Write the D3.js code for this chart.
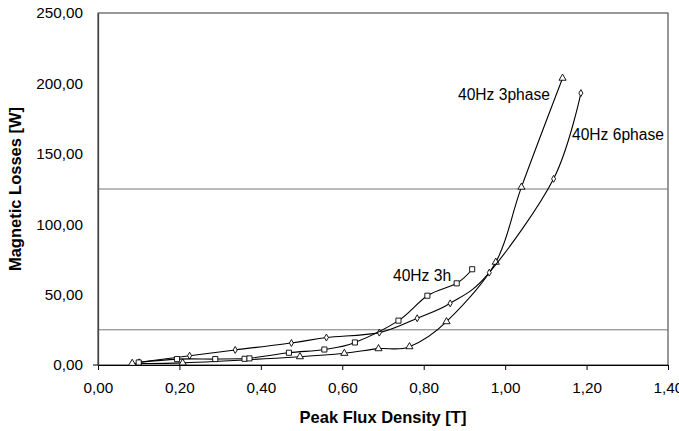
<!DOCTYPE html>
<html>
<head>
<meta charset="utf-8">
<script src="https://cdn.jsdelivr.net/npm/d3@7"></script>
<style>
  body { margin: 0; background: #fff; }
  text { font-family: "Liberation Sans", Arial, sans-serif; fill: #000; }
</style>
</head>
<body>
<svg id="chart" width="679" height="431"></svg>
<script>
// values
var xTicks = [0, 0.2, 0.4, 0.6, 0.8, 1.0, 1.2, 1.4];
var yTicks = [0, 50, 100, 150, 200, 250];
var refLines = [25, 125];

var phase3X = [0.084, 0.208, 0.496, 0.605, 0.689, 0.765, 0.856, 0.977, 1.040, 1.141];
var phase3Y = [1.2, 1.5, 5.9, 8.3, 11.6, 13.0, 30.8, 73.0, 126.3, 203.7];

var phase6X = [0.101, 0.225, 0.337, 0.475, 0.561, 0.691, 0.784, 0.865, 0.961, 1.119, 1.186];
var phase6Y = [1.9, 6.6, 10.7, 15.6, 19.5, 23.0, 33.2, 43.8, 65.6, 132.2, 193.1];

var h3X = [0.100, 0.194, 0.288, 0.360, 0.372, 0.469, 0.556, 0.631, 0.738, 0.809, 0.881, 0.919];
var h3Y = [1.8, 4.2, 4.2, 4.4, 4.7, 8.7, 11.0, 16.0, 31.5, 49.2, 58.0, 68.0];

var seriesNames = ["40Hz 3phase", "40Hz 6phase", "40Hz 3h"];

function zip(xs, ys) {
	return xs.map(function(v, i) { return {x: v, y: ys[i]}; });
}

var series = [
	{name: seriesNames[0], pts: zip(phase3X, phase3Y), shape: d3.symbolTriangle, size: 22, lx: 458, ly: 100},
	{name: seriesNames[1], pts: zip(phase6X, phase6Y), shape: d3.symbolDiamond, size: 14, lx: 572, ly: 140},
	{name: seriesNames[2], pts: zip(h3X, h3Y), shape: d3.symbolSquare, size: 26, lx: 393, ly: 281}
];

var width = 679, height = 431;
var margin = {top: 13, right: 11, bottom: 66, left: 98};

var svg = d3.select("#chart");

var x = d3.scaleLinear().domain([0, 1.4]).range([margin.left, width - margin.right]);
var y = d3.scaleLinear().domain([0, 250]).range([height - margin.bottom, margin.top]);

var comma = d3.formatLocale({decimal: ",", thousands: ".", grouping: [3], currency: ["", ""]});
var fmt = comma.format(".2f");

// frame
svg.append("rect")
	.attr("x", x(0)).attr("y", y(250))
	.attr("width", x(1.4) - x(0)).attr("height", y(0) - y(250))
	.attr("fill", "none").attr("stroke", "#333").attr("stroke-width", 1);

// reference lines
svg.append("g").selectAll("line").data(refLines).enter()
	.append("line")
	.attr("x1", x(0)).attr("x2", x(1.4))
	.attr("y1", d => y(d)).attr("y2", d => y(d))
	.attr("stroke", "#777").attr("stroke-width", 1);

// x axis
var xAxis = svg.append("g")
	.attr("transform", `translate(0,${y(0)})`)
	.call(d3.axisBottom(x).tickValues(xTicks).tickFormat(fmt).tickSize(5).tickPadding(12).tickSizeOuter(0));
xAxis.select(".domain").attr("stroke", "#000");
xAxis.selectAll("text").style("font-size", "15.3px").attr("font-family", null);
xAxis.append("line")
	.attr("x1", x(0) - 5).attr("x2", x(0))
	.attr("stroke", "#000");

// y axis
var yAxis = svg.append("g")
	.attr("transform", `translate(${x(0)},0)`)
	.call(d3.axisLeft(y).tickValues(yTicks).tickFormat(fmt).tickSize(0).tickPadding(15));
yAxis.select(".domain").attr("stroke", "#444").attr("stroke-width", 1.3);
yAxis.selectAll("text").style("font-size", "15.3px").attr("font-family", null);

// axis titles
svg.append("text")
	.attr("x", (x(0) + x(1.4)) / 2).attr("y", 423)
	.attr("text-anchor", "middle")
	.style("font-size", "16.5px").style("font-weight", "bold")
	.text("Peak Flux Density [T]");

svg.append("text")
	.attr("transform", `translate(21,${(y(0) + y(250)) / 2}) rotate(-90)`)
	.attr("text-anchor", "middle")
	.style("font-size", "16.5px").style("font-weight", "bold")
	.text("Magnetic Losses [W]");

// lines and markers
var line = d3.line()
	.x(d => x(d.x)).y(d => y(d.y))
	.curve(d3.curveCardinal.tension(0));

series.forEach(function(s) {
	svg.append("path")
		.attr("d", line(s.pts))
		.attr("fill", "none").attr("stroke", "#000").attr("stroke-width", 1.1);

	svg.append("g").selectAll("path").data(s.pts).enter()
		.append("path")
		.attr("transform", d => `translate(${x(d.x)},${y(d.y)})`)
		.attr("d", d3.symbol().type(s.shape).size(s.size))
		.attr("fill", "#fff").attr("stroke", "#000").attr("stroke-width", 0.9);

	svg.append("text")
		.attr("x", s.lx).attr("y", s.ly)
		.style("font-size", "15.6px")
		.text(s.name);
});
</script>
</body>
</html>
